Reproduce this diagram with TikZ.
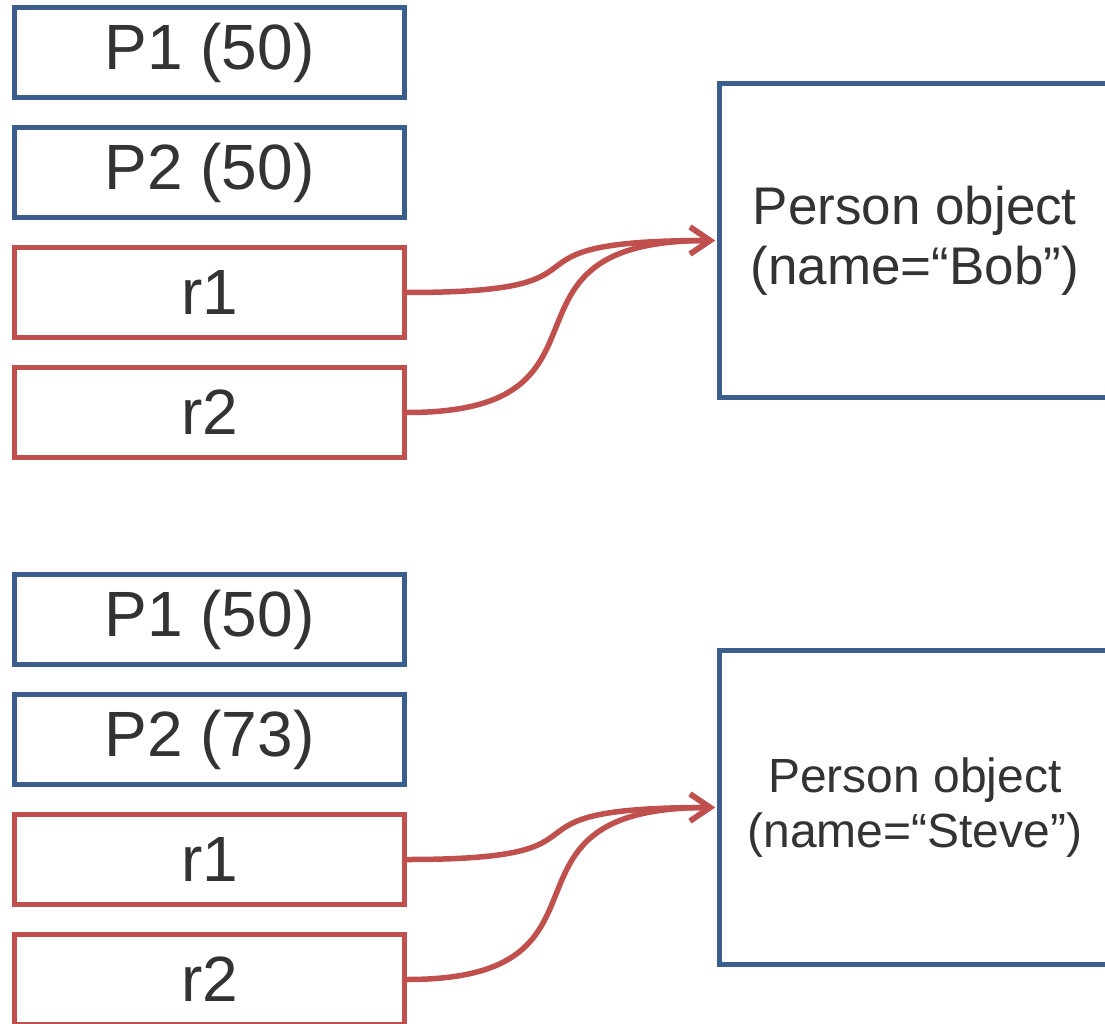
\documentclass[tikz,border=0pt]{standalone}
\usepackage{fontspec}
\setmainfont{Liberation Sans}
\usetikzlibrary{arrows.meta}
\definecolor{boxblue}{HTML}{3B5E8C}
\definecolor{refred}{HTML}{C0504D}
\definecolor{txt}{HTML}{333333}
\tikzset{
  slot/.style={draw=#1, line width=5pt, minimum width=390pt, minimum height=90pt,
    inner sep=0pt, text=txt, font=\fontsize{64}{70}\selectfont},
  valbox/.style={slot=boxblue},
  refbox/.style={slot=refred},
  objbox/.style={draw=boxblue, line width=5pt, minimum width=390.5pt, minimum height=314pt,
    inner sep=0pt, text=txt, align=center},
  refline/.style={draw=refred, line width=5.5pt, -{Straight Barb[length=20pt,width=27pt]}}
}
\begin{document}
\begin{tikzpicture}[x=1pt,y=-1pt]
\useasboundingbox (0,0) rectangle (1105,1024);
\clip (0,0) rectangle (1105,1024);
% first state: r1 and r2 both refer to Bob
\node[valbox] (p1a) at (209.5,52.5) {P1 (50)};
\node[valbox] (p2a) at (209.5,172.5) {P2 (50)};
\node[refbox] (r1a) at (209.5,292.5) {r1};
\node[refbox] (r2a) at (209.5,412.5) {r2};
\node[objbox, font=\fontsize{53}{60}\selectfont] (bob) at (914.75,240.5) {Person object\\(name=“Bob”)};
\coordinate (bobin) at ([xshift=-2pt]bob.west);
\draw[refline] (r1a.east) .. controls +(230,0) and +(-240,0) .. (bobin);
\draw[refline] (r2a.east) .. controls +(230,0) and +(-240,0) .. (bobin);
% second state: r1 and r2 both refer to Steve
\node[valbox] (p1b) at (209.5,619.5) {P1 (50)};
\node[valbox] (p2b) at (209.5,739.5) {P2 (73)};
\node[refbox] (r1b) at (209.5,859.5) {r1};
\node[refbox] (r2b) at (209.5,979.5) {r2};
\node[objbox, font=\fontsize{48}{55}\selectfont] (steve) at (914.75,807.5) {Person object\\(name=“Steve”)};
\coordinate (stevein) at ([xshift=-2pt]steve.west);
\draw[refline] (r1b.east) .. controls +(230,0) and +(-240,0) .. (stevein);
\draw[refline] (r2b.east) .. controls +(230,0) and +(-240,0) .. (stevein);
\end{tikzpicture}
\end{document}
